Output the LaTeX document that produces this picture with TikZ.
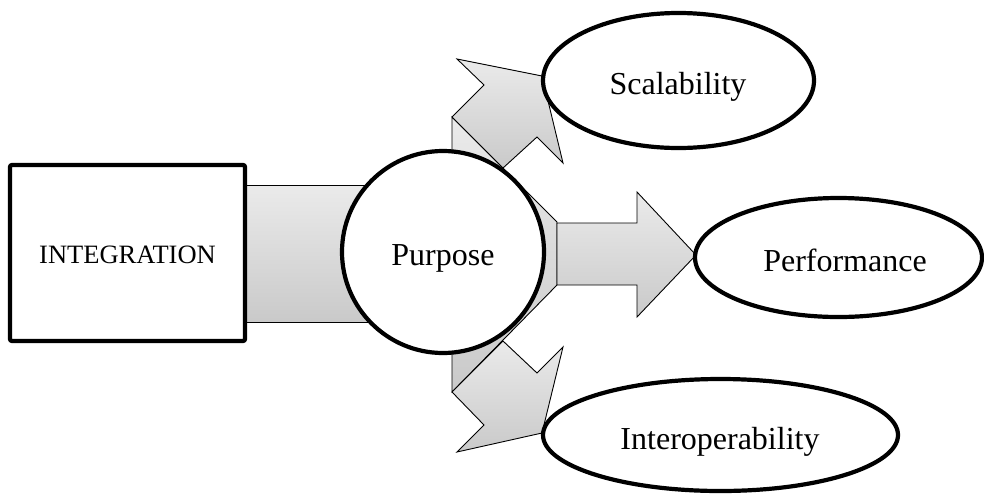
\documentclass[tikz,border=0pt]{standalone}
\usepackage{fontspec}
\setmainfont{Liberation Serif}
\usetikzlibrary{shapes.geometric}
\tikzset{
  flow/.style={draw=black, line width=0.9pt, line join=miter, top color=black!8, bottom color=black!21},
  bigline/.style={draw=black, line width=4.2pt, fill=white},
  lbl/.style={font=\fontsize{32}{36}\selectfont, anchor=base, inner sep=0pt},
  lblsmall/.style={font=\fontsize{26.5}{30}\selectfont, anchor=base, inner sep=0pt}
}
\begin{document}
\begin{tikzpicture}[x=1pt,y=-1pt]
\useasboundingbox (0,0) rectangle (984,493);
% band from INTEGRATION to Purpose
\path[flow] (245,185) rectangle (452,322);
% hub behind the circle
\path[flow] (452,117) -- (557,222) -- (557,285) -- (452,392) -- cycle;
% right arrow
\path[flow] (557,223) -- (637,223) -- (637,192) -- (696,255) -- (637,317) -- (637,285) -- (557,285) -- cycle;
% upper arrow
\path[flow] (452,117) -- (484,85) -- (457,59) -- (542,76) -- (563,163) -- (537,137) -- (503,168) -- cycle;
% lower arrow
\path[flow] (452,392) -- (484,425) -- (457,452) -- (542,433) -- (563,347) -- (537,373) -- (503,341) -- cycle;
% INTEGRATION box
\node[bigline, rounded corners=2pt, minimum width=235pt, minimum height=176pt, inner sep=0pt] (intbox) at (127.5,253) {};
\node[lblsmall] (inttext) at (127.5,263) {INTEGRATION};
% Purpose circle
\node[bigline, circle, minimum size=202pt, inner sep=0pt] (purpose) at (443,252) {};
\node[lbl] (purposetext) at (443,265) {Purpose};
% ellipses
\node[bigline, ellipse, minimum width=271pt, minimum height=135pt, inner sep=0pt] (scal) at (678.5,80.5) {};
\node[lbl] (scaltext) at (678,94) {Scalability};
\node[bigline, ellipse, minimum width=287pt, minimum height=119pt, inner sep=0pt] (perf) at (838.5,257.5) {};
\node[lbl] (perftext) at (845,271) {Performance};
\node[bigline, ellipse, minimum width=355pt, minimum height=112pt, inner sep=0pt] (inter) at (720.5,435) {};
\node[lbl] (intertext) at (720,449) {Interoperability};
\end{tikzpicture}
\end{document}
